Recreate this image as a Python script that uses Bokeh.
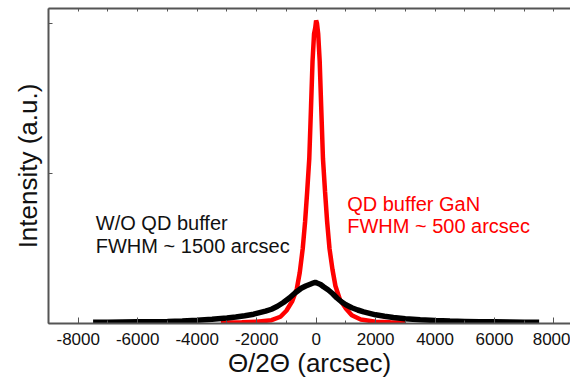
from bokeh.plotting import figure
from bokeh.models import LinearAxis, FixedTicker, Range1d, Label
from bokeh.embed import file_html
from bokeh.resources import INLINE

# Red curve: with QD buffer GaN (theta/2theta in arcsec, intensity a.u.)
red_x = [-3200, -3000, -2500, -2000, -1500, -1200, -1000, -800, -650, -550, -450, -370,
         -300, -230, -170, -120, -70, -30, 0, 30, 70, 120, 170, 230, 300, 370, 450, 550,
         650, 800, 1000, 1200, 1500, 2000, 2500, 3000]
red_y = [0.004, 0.006, 0.008, 0.012, 0.022, 0.045, 0.085, 0.15, 0.23, 0.34, 0.5, 0.68,
         0.88, 1.1, 1.45, 1.75, 1.93, 1.97, 2.02, 2.0, 1.93, 1.75, 1.45, 1.1, 0.88, 0.68,
         0.5, 0.36, 0.25, 0.16, 0.1, 0.055, 0.027, 0.012, 0.008, 0.005]

# Black curve: without QD buffer
blk_x = [-7500, -7000, -6500, -6000, -5500, -5000, -4500, -4000, -3500, -3000, -2700,
         -2400, -2100, -1900, -1700, -1500, -1300, -1100, -900, -700, -500, -350, -200,
         -100, -30, 50, 150, 250, 400, 550, 700, 850, 1000, 1200, 1400, 1600, 1800, 2000,
         2300, 2600, 3000, 3500, 4000, 4500, 5000, 5500, 6000, 6500, 7000, 7500]
blk_y = [0.008, 0.009, 0.010, 0.011, 0.012, 0.014, 0.017, 0.022, 0.028, 0.036, 0.043,
         0.052, 0.062, 0.072, 0.082, 0.095, 0.115, 0.14, 0.17, 0.205, 0.235, 0.25, 0.262,
         0.27, 0.275, 0.268, 0.26, 0.245, 0.225, 0.2, 0.17, 0.145, 0.125, 0.105, 0.09,
         0.078, 0.068, 0.058, 0.048, 0.04, 0.032, 0.025, 0.02, 0.016, 0.014, 0.012, 0.011,
         0.01, 0.009, 0.008]

x_ticks = [-8000, -6000, -4000, -2000, 0, 2000, 4000, 6000, 8000]
x_tick_labels = ["-8000", "-6000", "-4000", "-2000", "0", "2000", "4000", "6000", "8000"]
x_minor = list(range(-9000, 9001, 1000))
y_ticks = [0, 1, 2]

FONT = "Liberation Sans"

p = figure(width=570, height=381, output_backend="svg", toolbar_location=None,
           x_range=Range1d(-9000, 8555), y_range=Range1d(0, 2.1),
           x_axis_location=None, y_axis_location=None,
           min_border_left=48, min_border_right=0, min_border_top=8, min_border_bottom=58)
p.outline_line_color = None
p.xgrid.visible = False
p.ygrid.visible = False
p.background_fill_color = "white"

p.line(red_x, red_y, line_color="#ff0000", line_width=4.5)
p.line(blk_x, blk_y, line_color="#000000", line_width=5.5)

axc = "#555555"
xb = LinearAxis(ticker=FixedTicker(ticks=x_ticks, minor_ticks=x_minor),
                axis_label="\u0398/2\u0398 (arcsec)")
xb.major_label_overrides = {t: s for t, s in zip(x_ticks, x_tick_labels)}
xb.axis_line_color = axc
xb.axis_line_width = 2
xb.major_tick_in = 6
xb.major_tick_out = 0
xb.minor_tick_in = 3
xb.minor_tick_out = 0
xb.major_tick_line_color = axc
xb.minor_tick_line_color = axc
xb.major_label_text_font = FONT
xb.major_label_text_font_size = "17px"
xb.major_label_text_color = "#111111"
xb.major_label_standoff = 9
xb.axis_label_text_font = FONT
xb.axis_label_text_font_size = "26px"
xb.axis_label_text_font_style = "normal"
xb.axis_label_text_color = "#111111"
xb.axis_label_standoff = 0
p.add_layout(xb, "below")

# top frame line: ticks only (minor ticks carry no labels)
xt = LinearAxis(ticker=FixedTicker(ticks=[], minor_ticks=x_minor))
xt.axis_line_color = axc
xt.axis_line_width = 2
xt.minor_tick_in = 3
xt.minor_tick_out = 0
xt.minor_tick_line_color = axc
xt.major_label_standoff = 0
p.add_layout(xt, "above")

yl = LinearAxis(ticker=FixedTicker(ticks=[], minor_ticks=y_ticks),
                axis_label="Intensity (a.u.)")
yl.axis_line_color = axc
yl.axis_line_width = 2
yl.minor_tick_in = 4
yl.minor_tick_out = 0
yl.minor_tick_line_color = axc
yl.major_label_standoff = 0
yl.axis_label_text_font = FONT
yl.axis_label_text_font_size = "26px"
yl.axis_label_text_font_style = "normal"
yl.axis_label_text_color = "#111111"
yl.axis_label_standoff = 6
p.add_layout(yl, "left")

for txt, x, y, col in [("W/O QD buffer", -7410, 0.667, "#111111"),
                       ("FWHM ~ 1500 arcsec", -7410, 0.52, "#111111"),
                       ("QD buffer GaN", 1044, 0.80, "#ff0000"),
                       ("FWHM ~ 500 arcsec", 1044, 0.653, "#ff0000")]:
    p.add_layout(Label(x=x, y=y, text=txt, text_color=col, text_font=FONT,
                       text_font_size="20px", text_baseline="alphabetic"))

open("out.html", "w").write(file_html(p, INLINE))
